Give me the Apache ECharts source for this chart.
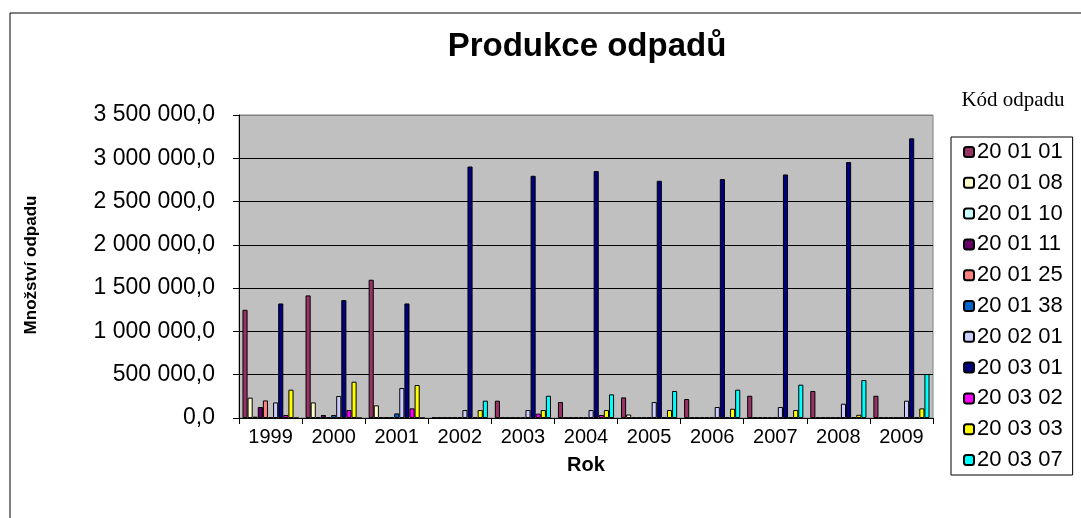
<html lang="cs">
<head>
    <meta charset="UTF-8">
    <title>Produkce odpadů</title>
</head>
<body style="margin:0;background:#fff">
    <div id="container" style="width:1081px;height:518px"></div>

    <script src="https://cdn.jsdelivr.net/npm/echarts@6/dist/echarts.min.js"></script>
    <script>
        // years on the x axis
        var years = ['1999','2000','2001','2002','2003','2004','2005','2006','2007','2008','2009'];
        // waste codes (legend)
        var codes = ['20 01 01','20 01 08','20 01 10','20 01 11','20 01 25','20 01 38',
                     '20 02 01','20 03 01','20 03 02','20 03 03','20 03 07'];
        // amounts per code
        var v200101 = [1250000, 1416000, 1597000, 5000, 200000, 185000, 238000, 219000, 257000, 312000, 257000];
        var v200108 = [235000, 180000, 146000, 5000, 5000, 5000, 40000, 5000, 5000, 5000, 5000];
        var v200110 = [15000, 8000, 8000, 5000, 5000, 5000, 5000, 5000, 5000, 5000, 5000];
        var v200111 = [127000, 35000, 8000, 5000, 5000, 5000, 5000, 5000, 5000, 5000, 5000];
        var v200125 = [203000, 8000, 8000, 5000, 5000, 5000, 5000, 5000, 5000, 5000, 5000];
        var v200138 = [8000, 35000, 53000, 5000, 5000, 5000, 5000, 5000, 5000, 5000, 5000];
        var v200201 = [180000, 254000, 346000, 92000, 92000, 92000, 185000, 127000, 127000, 165000, 200000];
        var v200301 = [1323000, 1362000, 1323000, 2905000, 2798000, 2852000, 2740000, 2760000, 2813000, 2956000, 3230000];
        var v200302 = [35000, 92000, 111000, 10000, 50000, 35000, 8000, 8000, 8000, 8000, 8000];
        var v200303 = [327000, 419000, 381000, 92000, 92000, 92000, 92000, 107000, 92000, 37000, 111000];
        var v200307 = [0, 0, 0, 200000, 257000, 273000, 312000, 327000, 385000, 438000, 508000];

        var values = [v200101, v200108, v200110, v200111, v200125, v200138,
                      v200201, v200301, v200302, v200303, v200307];
        var colors = ['#993366','#FFFFCC','#CCFFFF','#660066','#FF8080','#0066CC',
                      '#CCCCFF','#000080','#FF00FF','#FFFF00','#00FFFF'];

        function fmt(v){
            return Math.round(v).toString().replace(/\B(?=(\d{3})+(?!\d))/g, ' ') + ',0';
        }

        var myChart = echarts.init(document.getElementById('container'));
        var series = [];
        codes.forEach(function(code, i){
            series.push({
                name: code,
                type: 'bar',
                data: values[i],
                barGap: 0,
                barCategoryGap: '11%',
                itemStyle: {color: colors[i], borderColor: '#000', borderWidth: 1},
                animation: false
            });
        });

        var option = {
            backgroundColor: '#fff',
            textStyle: {fontFamily: 'Liberation Sans, Arial'},
            graphic: [
                {type: 'rect', shape: {x: 10, y: 13, width: 1085, height: 520},
                 style: {fill: 'none', stroke: '#000', lineWidth: 1}, z: -1},
                {type: 'text', x: 587, y: 47,
                 style: {text: 'Produkce odpadů', font: 'bold 33px "Liberation Sans", Arial',
                         fill: '#000', align: 'center', verticalAlign: 'middle'}},
                {type: 'text', x: 1013, y: 100,
                 style: {text: 'Kód odpadu', font: '21px "Liberation Serif", "Times New Roman"',
                         fill: '#000', align: 'center', verticalAlign: 'middle'}},
                {type: 'text', x: 586, y: 465,
                 style: {text: 'Rok', font: 'bold 20px "Liberation Sans", Arial',
                         fill: '#000', align: 'center', verticalAlign: 'middle'}},
                {type: 'text', x: 31, y: 265, rotation: Math.PI / 2,
                 style: {text: 'Množství odpadu', font: 'bold 17px "Liberation Sans", Arial',
                         fill: '#000', align: 'center', verticalAlign: 'middle'}}
            ],
            legend: {
                data: codes,
                orient: 'vertical',
                left: 951,
                top: 137,
                padding: [4, 10, 4, 12],
                itemWidth: 10,
                itemHeight: 10,
                itemGap: 8.8,
                borderColor: '#000',
                borderWidth: 1,
                selectedMode: false,
                textStyle: {fontSize: 22, lineHeight: 22, color: '#000', padding: [0, 0, 0, -2]}
            },
            grid: {
                left: 239, right: 148, top: 115, bottom: 100,
                show: true, backgroundColor: '#C0C0C0', borderColor: '#808080', borderWidth: 1
            },
            xAxis: {
                type: 'category',
                data: years,
                axisLine: {lineStyle: {color: '#000', width: 1}},
                axisTick: {show: true, length: 6, lineStyle: {color: '#000'}},
                axisLabel: {color: '#000', fontSize: 20, margin: 9}
            },
            yAxis: {
                type: 'value',
                min: 0,
                max: 3500000,
                interval: 500000,
                axisLine: {show: true, lineStyle: {color: '#000', width: 1}},
                axisTick: {show: true, length: 6, lineStyle: {color: '#000'}},
                axisLabel: {color: '#000', fontSize: 23, margin: 24, formatter: fmt},
                splitLine: {lineStyle: {color: ['#000','#000','#000','#000','#000','#000','#000','#808080'], width: 1}}
            },
            series: series
        };
        myChart.setOption(option);
    </script>
</body>
</html>
